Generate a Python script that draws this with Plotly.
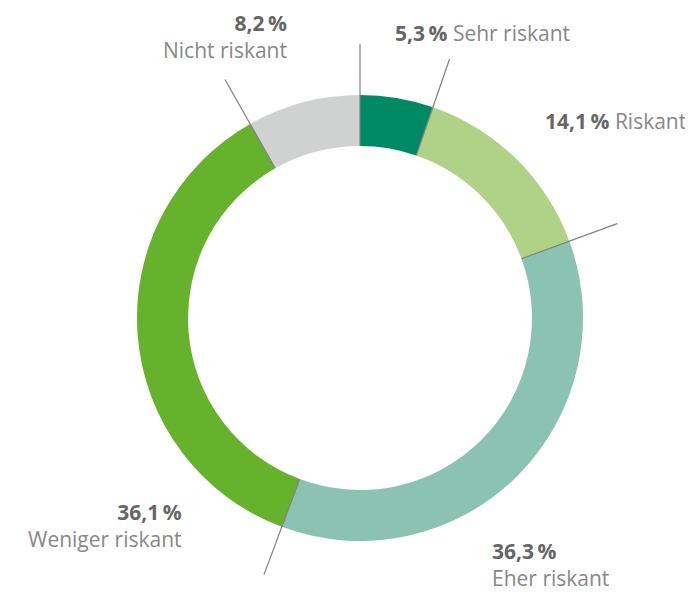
import math
import plotly.graph_objects as go

categories = ["Sehr riskant", "Riskant", "Eher riskant", "Weniger riskant", "Nicht riskant"]
values = [5.3, 14.1, 36.3, 36.1, 8.2]
value_labels = ["5,3", "14,1", "36,3", "36,1", "8,2"]
colors = ["#008a64", "#afd286", "#8cc2b2", "#67b22d", "#d0d2d1"]

OFF = 8                    # default page body margin
W, H = 693 - OFF, 593 - OFF
CX, CY = 360, 318          # pie centre in window pixels
R_OUT, R_IN = 223, 172     # outer / inner radius in pixels
R_LINE = 274               # leader line end radius
FS = 21

def px(x):
    return (x - OFF) / W

def py(y):
    return 1 - (y - OFF) / H

fig = go.Figure(go.Pie(
    labels=categories,
    values=values,
    marker=dict(colors=colors, line=dict(width=0)),
    hole=R_IN / R_OUT,
    sort=False,
    direction="clockwise",
    rotation=0,
    textinfo="none",
    hoverinfo="label+percent",
    domain=dict(x=[px(CX - R_OUT), px(CX + R_OUT)], y=[py(CY + R_OUT), py(CY - R_OUT)]),
))

# leader lines at slice boundaries, computed from cumulative shares
total = sum(values)
cum = 0.0
shapes = []
for v in [0] + values[:-1]:
    cum += v
    ang = 2 * math.pi * cum / total
    sx, sy = math.sin(ang), -math.cos(ang)
    shapes.append(dict(
        type="line", xref="paper", yref="paper",
        x0=px(CX + R_IN * sx), y0=py(CY + R_IN * sy),
        x1=px(CX + R_LINE * sx), y1=py(CY + R_LINE * sy),
        line=dict(color="#808080", width=1.2),
    ))

NUM = "#666666"
LAB = "#888888"
FONT = "Open Sans"

def num(i):
    return f"<b>{value_labels[i]}\u2009%</b>"

def lab(i):
    return f"<span style='color:{LAB}'>{categories[i]}</span>"

def ann(text, x, baseline_mid, anchor):
    return dict(text=text, x=px(x), y=py(baseline_mid - 0.35 * FS), xanchor=anchor,
                align=anchor, xref="paper", yref="paper", yanchor="middle",
                showarrow=False, font=dict(family=FONT, size=FS, color=NUM))

annotations = [
    ann(num(0) + " " + lab(0), 393, 40, "left"),
    ann(num(1) + " " + lab(1), 543, 128, "left"),
    ann(num(2) + "<br>" + lab(2), 490, 572, "left"),
    ann(num(3) + "<br>" + lab(3), 184, 533, "right"),
    ann(num(4) + "<br>" + lab(4), 289, 44, "right"),
]

fig.update_layout(
    width=W, height=H,
    margin=dict(l=0, r=0, t=0, b=0),
    paper_bgcolor="white", plot_bgcolor="white",
    showlegend=False,
    shapes=shapes,
    annotations=annotations,
)

fig.write_html("out.html")
